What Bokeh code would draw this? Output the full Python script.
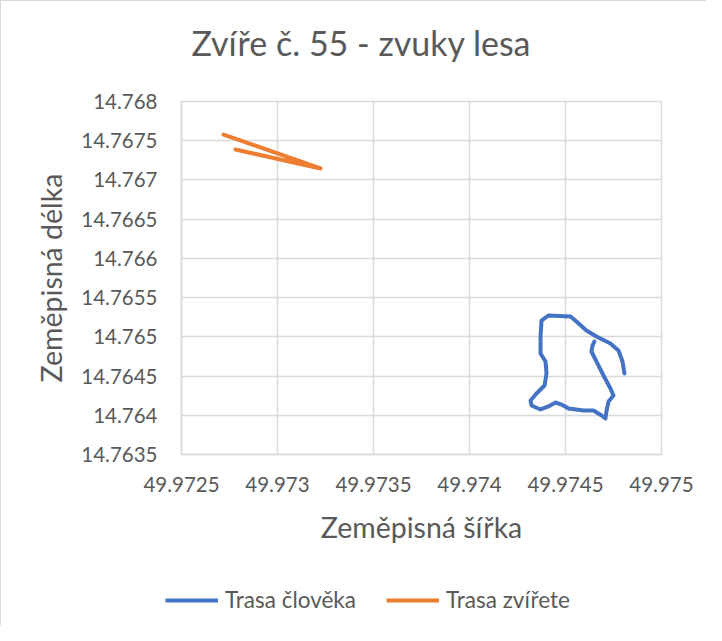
from bokeh.plotting import figure
from bokeh.models import Range1d, FixedTicker, CustomJSTickFormatter, Legend, Title
from bokeh.embed import file_html
from bokeh.resources import INLINE

# ---- data ----
title_text = "Zvíře č. 55 - zvuky lesa"
x_label = "Zeměpisná šířka"
y_label = "Zeměpisná délka"

x_ticks = [49.9725, 49.973, 49.9735, 49.974, 49.9745, 49.975]
x_tick_labels = ["49.9725", "49.973", "49.9735", "49.974", "49.9745", "49.975"]
y_ticks = [14.7635, 14.764, 14.7645, 14.765, 14.7655, 14.766, 14.7665, 14.767, 14.7675, 14.768]
y_tick_labels = ["14.7635", "14.764", "14.7645", "14.765", "14.7655", "14.766", "14.7665", "14.767", "14.7675", "14.768"]

human_name = "Trasa člověka"
human_x = [49.974807, 49.974797, 49.974776, 49.974734, 49.974661, 49.974609, 49.974557, 49.974526,
           49.974411, 49.974375, 49.974370, 49.974370, 49.974396, 49.974401, 49.974391, 49.974349,
           49.974318, 49.974323, 49.974370, 49.974411, 49.974448, 49.974479, 49.974516, 49.974594,
           49.974646, 49.974688, 49.974708, 49.974714, 49.974724, 49.974750, 49.974734, 49.974698,
           49.974661, 49.974635, 49.974641, 49.974651]
human_y = [14.764533, 14.764686, 14.764826, 14.764915, 14.765004, 14.765081, 14.765195, 14.765259,
           14.765272, 14.765208, 14.765004, 14.764788, 14.764686, 14.764533, 14.764380, 14.764278,
           14.764188, 14.764125, 14.764074, 14.764112, 14.764163, 14.764137, 14.764086, 14.764061,
           14.764061, 14.763997, 14.763959, 14.764061, 14.764176, 14.764252, 14.764341, 14.764507,
           14.764686, 14.764813, 14.764890, 14.764941]

animal_name = "Trasa zvířete"
animal_x = [49.972719, 49.973224, 49.972781]
animal_y = [14.767579, 14.767146, 14.767388]

# ---- styling ----
FONT = "Lato"
TXT = "#595959"
GRID = "#d9d9d9"
BLUE = "#4472C4"
ORANGE = "#ED7D31"
W = 706
H_MAIN = 560
H_LEG = 65

p = figure(width=W, height=H_MAIN, output_backend="svg", toolbar_location=None, title=None,
           x_range=Range1d(x_ticks[0], x_ticks[-1]), y_range=Range1d(y_ticks[0], y_ticks[-1]),
           min_border_left=180, min_border_right=46, min_border_top=100, min_border_bottom=107)
p.styles = {"border-left": "1px solid #d9d9d9", "border-top": "1px solid #d9d9d9"}
p.outline_line_color = GRID
p.outline_line_width = 1.5
p.background_fill_color = "white"
p.border_fill_color = "white"

# spacer between frame and title, then the title itself (further out)
p.add_layout(Title(text=" ", text_font_size="1px", standoff=36), "above")
p.add_layout(Title(text=title_text, align="left", offset=10, standoff=0, text_font=FONT,
                   text_font_size="34px", text_font_style="normal", text_color=TXT), "above")

p.xaxis.ticker = FixedTicker(ticks=x_ticks)
p.yaxis.ticker = FixedTicker(ticks=y_ticks)
p.xaxis.formatter = CustomJSTickFormatter(args=dict(labels=x_tick_labels), code="return labels[index];")
p.yaxis.formatter = CustomJSTickFormatter(args=dict(labels=y_tick_labels), code="return labels[index];")
p.xgrid.ticker = FixedTicker(ticks=x_ticks)
p.ygrid.ticker = FixedTicker(ticks=y_ticks)
p.grid.grid_line_color = GRID
p.grid.grid_line_width = 1.5

for ax in (p.xaxis, p.yaxis):
    ax.axis_line_color = GRID
    ax.axis_line_width = 1.5
    ax.major_tick_line_color = None
    ax.minor_tick_line_color = None
    ax.major_tick_out = 0
    ax.major_tick_in = 0
    ax.major_label_text_font = FONT
    ax.major_label_text_font_size = "20.5px"
    ax.major_label_text_color = TXT
    ax.axis_label_text_font = FONT
    ax.axis_label_text_font_size = "28.5px"
    ax.axis_label_text_font_style = "normal"
    ax.axis_label_text_color = TXT

p.xaxis.axis_label = x_label
p.yaxis.axis_label = y_label
p.xaxis.major_label_standoff = 22
p.yaxis.major_label_standoff = 24
p.xaxis.axis_label_standoff = 15
p.yaxis.axis_label_standoff = 10

p.line(human_x, human_y, line_color=BLUE, line_width=4, line_join="round", line_cap="round")
p.line(animal_x, animal_y, line_color=ORANGE, line_width=4, line_join="round", line_cap="round")

# legend strip below the chart (separate root so its frame spans the full width)
q = figure(width=W, height=H_LEG, output_backend="svg", toolbar_location=None,
           x_range=Range1d(0, 1), y_range=Range1d(0, 1), x_axis_type=None, y_axis_type=None,
           min_border=0)
q.styles = {"border-left": "1px solid #d9d9d9"}
q.outline_line_color = None
q.grid.visible = False
q.background_fill_color = "white"
q.border_fill_color = "white"
# the same series, drawn outside this strip's visible range, only to feed the legend
lh = q.line(human_x, human_y, line_color=BLUE, line_width=4)
la = q.line(animal_x, animal_y, line_color=ORANGE, line_width=4)
legend = Legend(items=[(human_name, [lh]), (animal_name, [la])], orientation="horizontal",
                location=(164, 12), background_fill_alpha=0, border_line_alpha=0,
                label_text_font=FONT, label_text_font_size="22.5px", label_text_color=TXT,
                glyph_width=53, label_standoff=7, spacing=30, padding=0, margin=0)
q.add_layout(legend)

open("out.html", "w").write(file_html([p, q], INLINE))
